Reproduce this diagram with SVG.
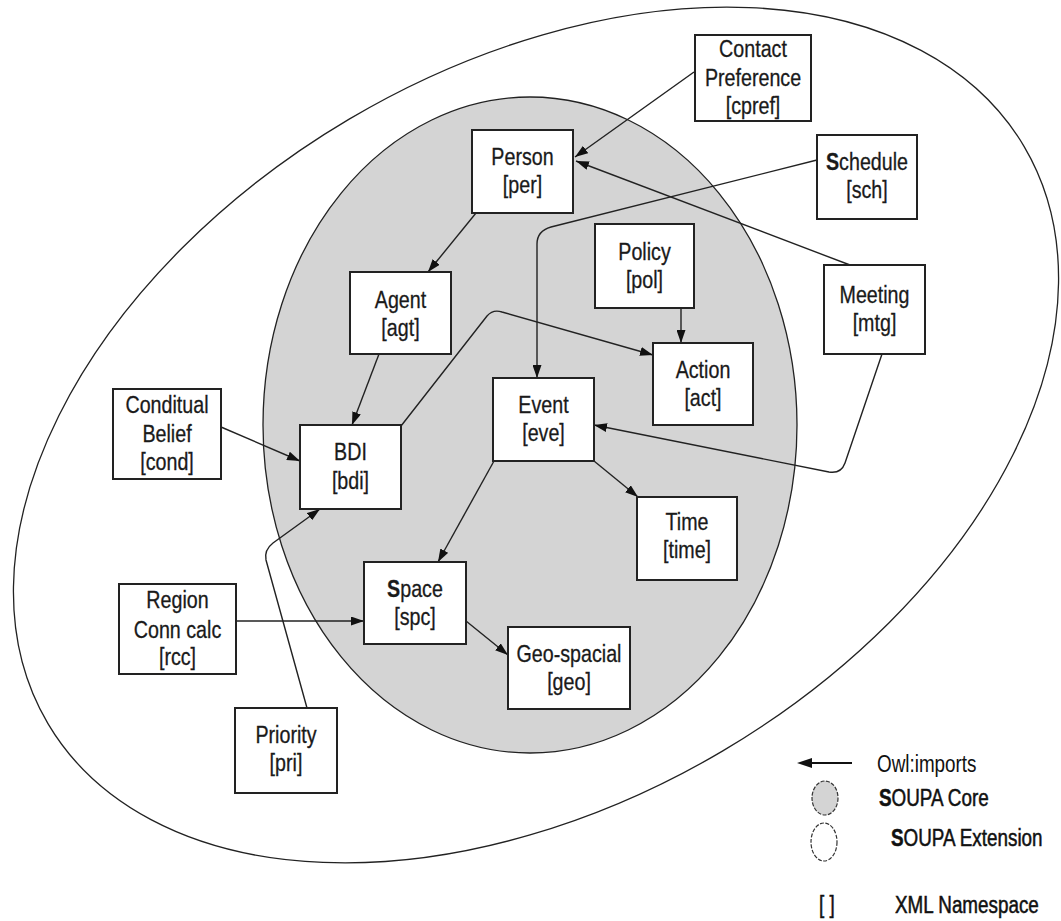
<svg xmlns="http://www.w3.org/2000/svg" width="1061" height="921" viewBox="0 0 1061 921">
<style>
.bg{fill:#ffffff}
.box{fill:#ffffff;stroke:#222;stroke-width:2}
.lbl{font-family:"Liberation Sans",Arial,sans-serif;font-size:24px;fill:#1a1a1a;stroke:#1a1a1a;stroke-width:0.3;text-anchor:middle}
.leg{font-family:"Liberation Sans",Arial,sans-serif;font-size:23px;fill:#111}
.hv{stroke:#111;stroke-width:0.5}
.b{font-weight:bold}
.conn{fill:none;stroke:#222;stroke-width:1.4;marker-end:url(#arr)}
.ell{stroke:#222;stroke-width:1.3}
</style>
<defs>
<marker id="arr" markerUnits="userSpaceOnUse" markerWidth="13" markerHeight="9" refX="13" refY="4.5" orient="auto">
<path d="M0,0 L13,4.5 L0,9 z" fill="#111"/>
</marker>
</defs>
<rect class="bg" x="0" y="0" width="1061" height="921"/>
<g id="ellipses">
<ellipse class="ell" cx="536" cy="435" rx="567" ry="367" transform="rotate(-30.6 536 435)" fill="#ffffff"/>
<ellipse class="ell" cx="530" cy="425" rx="267" ry="328" fill="#d4d4d4"/>
</g>
<g id="connectors">
<path class="conn" d="M694,72 L575,157"/>
<path class="conn" d="M850,265 L576,161"/>
<path class="conn" d="M817,160 L551,227 Q537,231 537,244 L537,378"/>
<path class="conn" d="M476,213 L428,272"/>
<path class="conn" d="M379,354 L352,425"/>
<path class="conn" d="M401,426 L487,316 Q493,309 502,312 L653,355"/>
<path class="conn" d="M681,308 L681,343"/>
<path class="conn" d="M882,354 L845,463 Q841,474 829,472 L594,425"/>
<path class="conn" d="M221,427 L300,461"/>
<path class="conn" d="M307,708 L266,560 Q264,550 273,543 L320,509"/>
<path class="conn" d="M236,621 L364,621"/>
<path class="conn" d="M494,461 L438,562"/>
<path class="conn" d="M594,461 L638,497"/>
<path class="conn" d="M466,621 L508,655"/>
</g>
<g id="cpref"><rect class="box" x="695" y="35" width="116" height="86"/><text class="lbl" transform="matrix(0.82 0 0 1 753 0)"><tspan x="0" y="57">Contact</tspan><tspan x="0" y="86">Preference</tspan><tspan x="0" y="114">[cpref]</tspan></text></g>
<g id="per"><rect class="box" x="472" y="130" width="101" height="83"/><text class="lbl" transform="matrix(0.82 0 0 1 522.5 0)"><tspan x="0" y="165">Person</tspan><tspan x="0" y="193">[per]</tspan></text></g>
<g id="sch"><rect class="box" x="817" y="135" width="100" height="84"/><text class="lbl" transform="matrix(0.82 0 0 1 867 0)"><tspan x="0" y="170"><tspan class="b">S</tspan>chedule</tspan><tspan x="0" y="198">[sch]</tspan></text></g>
<g id="pol"><rect class="box" x="595" y="224" width="99" height="84"/><text class="lbl" transform="matrix(0.82 0 0 1 644.5 0)"><tspan x="0" y="260">Policy</tspan><tspan x="0" y="288">[pol]</tspan></text></g>
<g id="mtg"><rect class="box" x="824" y="265" width="101" height="89"/><text class="lbl" transform="matrix(0.82 0 0 1 874.5 0)"><tspan x="0" y="303">Meeting</tspan><tspan x="0" y="331">[mtg]</tspan></text></g>
<g id="agt"><rect class="box" x="350" y="272" width="101" height="82"/><text class="lbl" transform="matrix(0.82 0 0 1 400.5 0)"><tspan x="0" y="308">Agent</tspan><tspan x="0" y="336">[agt]</tspan></text></g>
<g id="act"><rect class="box" x="653" y="343" width="100" height="82"/><text class="lbl" transform="matrix(0.82 0 0 1 703 0)"><tspan x="0" y="378">Action</tspan><tspan x="0" y="406">[act]</tspan></text></g>
<g id="eve"><rect class="box" x="493" y="378" width="101" height="83"/><text class="lbl" transform="matrix(0.82 0 0 1 543.5 0)"><tspan x="0" y="413">Event</tspan><tspan x="0" y="441">[eve]</tspan></text></g>
<g id="cond"><rect class="box" x="113" y="389" width="108" height="90"/><text class="lbl" transform="matrix(0.82 0 0 1 167 0)"><tspan x="0" y="413">Conditual</tspan><tspan x="0" y="442">Belief</tspan><tspan x="0" y="470">[cond]</tspan></text></g>
<g id="bdi"><rect class="box" x="300" y="425" width="101" height="84"/><text class="lbl" transform="matrix(0.82 0 0 1 350.5 0)"><tspan x="0" y="460">BDI</tspan><tspan x="0" y="489">[bdi]</tspan></text></g>
<g id="time"><rect class="box" x="637" y="497" width="100" height="83"/><text class="lbl" transform="matrix(0.82 0 0 1 687 0)"><tspan x="0" y="530">Time</tspan><tspan x="0" y="558">[time]</tspan></text></g>
<g id="rcc"><rect class="box" x="119" y="584" width="117" height="90"/><text class="lbl" transform="matrix(0.82 0 0 1 177.5 0)"><tspan x="0" y="608">Region</tspan><tspan x="0" y="638">Conn calc</tspan><tspan x="0" y="665">[rcc]</tspan></text></g>
<g id="spc"><rect class="box" x="364" y="562" width="102" height="82"/><text class="lbl" transform="matrix(0.82 0 0 1 415 0)"><tspan x="0" y="597"><tspan class="b">S</tspan>pace</tspan><tspan x="0" y="625">[spc]</tspan></text></g>
<g id="geo"><rect class="box" x="508" y="627" width="122" height="82"/><text class="lbl" transform="matrix(0.82 0 0 1 569 0)"><tspan x="0" y="662">Geo-spacial</tspan><tspan x="0" y="690">[geo]</tspan></text></g>
<g id="pri"><rect class="box" x="235" y="708" width="102" height="85"/><text class="lbl" transform="matrix(0.82 0 0 1 286 0)"><tspan x="0" y="743">Priority</tspan><tspan x="0" y="771">[pri]</tspan></text></g>
<g id="legend">
<path d="M852,763 L811,763" stroke="#111" stroke-width="2" fill="none"/>
<path d="M797,763 L812,758 L812,768 z" fill="#111"/>
<text class="leg" transform="matrix(0.82 0 0 1 877 0)" x="0" y="772">Owl:imports</text>
<ellipse cx="825" cy="798" rx="13" ry="17" fill="#d4d4d4" stroke="#333" stroke-width="1.2" stroke-dasharray="4 1.5"/>
<text class="leg hv" transform="matrix(0.82 0 0 1 879 0)" x="0" y="806"><tspan class="b">S</tspan>OUPA Core</text>
<ellipse cx="824" cy="842" rx="13" ry="19" fill="#ffffff" stroke="#333" stroke-width="1.2" stroke-dasharray="4 1.5"/>
<text class="leg hv" transform="matrix(0.82 0 0 1 891 0)" x="0" y="846"><tspan class="b">S</tspan>OUPA Extension</text>
<text class="leg hv" transform="matrix(0.82 0 0 1 819 0)" x="0" y="913">[ ]</text>
<text class="leg hv" transform="matrix(0.82 0 0 1 895 0)" x="0" y="913">XML Namespace</text>
</g>
</svg>
